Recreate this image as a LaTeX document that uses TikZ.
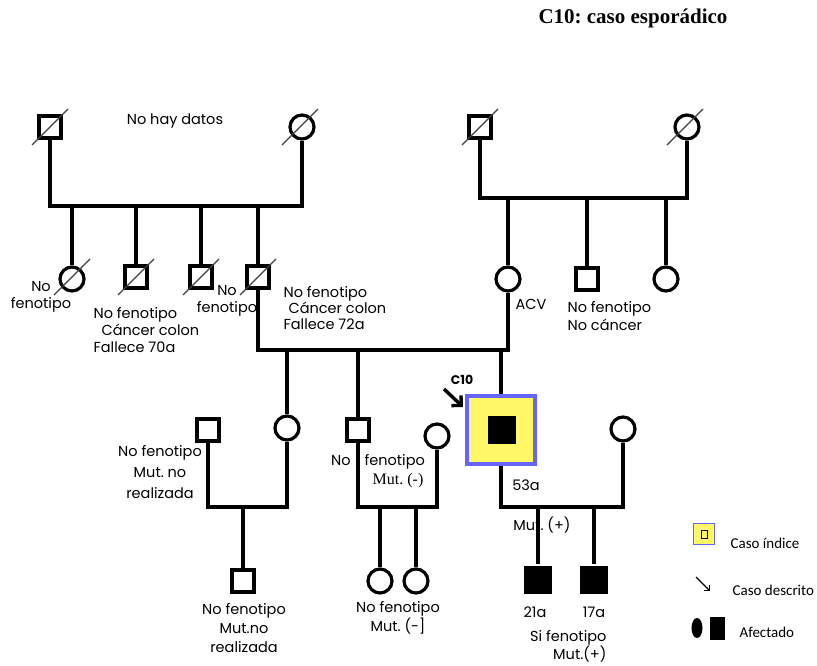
\documentclass[tikz,border=0pt]{standalone}
\usepackage{fontspec}
\setmainfont{Poppins}
\newfontfamily\titlefont{Liberation Serif}
\newfontfamily\legfont{Carlito}
\usetikzlibrary{arrows.meta,shapes.geometric}
\frenchspacing

\begin{document}
\begin{tikzpicture}[x=1pt,y=-1pt,line width=3.2pt,
    male/.style={draw,rectangle,minimum size=22pt,inner sep=0pt,fill=white},
    female/.style={draw,circle,minimum size=24pt,inner sep=0pt,fill=white},
    affected/.style={rectangle,fill=black,minimum size=28pt,inner sep=0pt},
    proband/.style={draw=blue!60,fill=yellow!60,rectangle,minimum size=68pt,inner sep=0pt},
    slash/.style={line width=1.3pt,black!75},
    lbl/.style={font=\fontsize{14.5}{17}\selectfont,inner sep=0pt,align=center},
    leg/.style={font=\legfont\fontsize{15}{18}\selectfont,inner sep=0pt,anchor=west}]
  \useasboundingbox (0,0) rectangle (817,666);

  \node[font=\titlefont\bfseries\fontsize{21}{24}\selectfont] (title) at (633,18) {C10: caso esporádico};

  \node[male] (gA) at (50,127) {};
  \node[female] (gB) at (302,127) {};
  \node[male] (gC) at (480,127) {};
  \node[female] (gD) at (687,127) {};
  \node[lbl] (nodata) at (175,121) {No hay datos};

  \node[female] (c1) at (72,279) {};
  \node[male] (c2) at (136,277) {};
  \node[male] (c3) at (201,277) {};
  \node[male] (c4) at (258,277) {};
  \node[female] (d1) at (508,279) {};
  \node[male] (d2) at (587,279) {};
  \node[female] (d3) at (666,279) {};

  \node[male] (e1) at (208,430) {};
  \node[female] (e2) at (287,428) {};
  \node[male] (e3) at (358,430) {};
  \node[female] (e4) at (437,436) {};
  \node[proband] (pr) at (501,430) {};
  \node[affected] (prIn) at (502,430) {};
  \node[female] (e5) at (623,429) {};

  \node[male] (f1) at (243,581) {};
  \node[female] (f2) at (380,581) {};
  \node[female] (f3) at (416,581) {};
  \node[affected] (g1) at (538,580) {};
  \node[affected] (g2) at (594,580) {};

  \coordinate (u1) at (176,206);
  \coordinate (u2) at (584,198);
  \coordinate (u3) at (380,350);
  \coordinate (u4) at (243,507);
  \coordinate (u5) at (397,507);
  \coordinate (u6) at (560,507);

  \draw (gA.south) |- (u1) -| (gB.south);
  \draw (c1 |- u1) -- (c1);
  \draw (c2 |- u1) -- (c2);
  \draw (c3 |- u1) -- (c3);
  \draw (c4 |- u1) -- (c4);
  \draw (gC.south) |- (u2) -| (gD.south);
  \draw (d1 |- u2) -- (d1);
  \draw (d2 |- u2) -- (d2);
  \draw (d3 |- u2) -- (d3);
  \draw (c4.south) |- (u3) -| (d1.south);
  \draw (e2 |- u3) -- (e2);
  \draw (e3 |- u3) -- (e3);
  \draw (pr |- u3) -- (pr);
  \draw (e1.south) |- (u4) -| (e2.south);
  \draw (u4) -- (f1);
  \draw (e3.south) |- (u5) -| (e4.south);
  \draw (f2 |- u5) -- (f2);
  \draw (f3 |- u5) -- (f3);
  \draw (pr.south) |- (u6) -| (e5.south);
  \draw (g1 |- u6) -- (g1);
  \draw (g2 |- u6) -- (g2);

  \draw[slash] (gA.center) ++(-18,18) -- ++(36,-36);
  \draw[slash] (gB.center) ++(-20,18) -- ++(36,-36);
  \draw[slash] (gC.center) ++(-18,18) -- ++(36,-36);
  \draw[slash] (gD.center) ++(-20,18) -- ++(36,-36);
  \draw[slash] (c1.center) ++(-18,16) -- ++(36,-36);
  \draw[slash] (c2.center) ++(-18,18) -- ++(36,-36);
  \draw[slash] (c3.center) ++(-18,18) -- ++(36,-36);
  \draw[slash] (c4.center) ++(-18,18) -- ++(36,-36);

  \node[lbl] (l1) at (41,297) {No\\fenotipo};
  \node[lbl,align=left,anchor=west] (l2) at (92,330) {No fenotipo\\\hspace{8pt}Cáncer colon\\Fallece 70a};
  \node[lbl] (l3) at (227,301) {No\\fenotipo};
  \node[lbl,align=left,anchor=west,font=\fontsize{14.5}{16}\selectfont] (l4) at (282,308) {No fenotipo\\\hspace{5pt}Cáncer colon\\Fallece 72a};
  \node[lbl] (l5) at (531,304) {ACV};
  \node[lbl,align=left,anchor=west,font=\fontsize{14.5}{18}\selectfont] (l6) at (566,316) {No fenotipo\\No cáncer};
  \node[lbl,font=\fontsize{14.5}{21}\selectfont] (l7) at (160,472) {No fenotipo\\Mut. no\\realizada};
  \node[lbl] (l8) at (378,462) {No\hspace{14pt}fenotipo};
  \node[lbl,font=\titlefont\fontsize{16}{18}\selectfont] (l9) at (398,481) {Mut. (-)};
  \node[lbl] (l10) at (526,485) {53a};
  \node[lbl] (l11) at (542,525) {Mut. (+)};
  \node[lbl,font=\fontsize{14.5}{19}\selectfont] (l12) at (244,628) {No fenotipo\\Mut.no\\realizada};
  \node[lbl,font=\fontsize{14.5}{19}\selectfont] (l13) at (398,618) {No fenotipo\\Mut. (-]};
  \node[lbl] (l14) at (535,612) {21a};
  \node[lbl] (l15) at (594,612) {17a};
  \node[lbl,align=right,anchor=east,font=\fontsize{14.5}{18}\selectfont] (l16) at (608,646) {Si fenotipo\\Mut.(+)};

  \coordinate (arS) at (444,389);
  \coordinate (arE) at (463,407);
  \draw[line width=3.4pt,-{Straight Barb[length=7pt,width=14pt]}] (arS) -- (arE);
  \node[lbl,font=\bfseries\fontsize{12.5}{14}\selectfont] (c10) at (462,380) {C10};

  \node[draw=blue!60,fill=yellow!60,line width=0.8pt,minimum size=21pt,inner sep=0pt] (lgI) at (704,534) {};
  \node[draw,fill=yellow!60,line width=0.8pt,minimum width=6pt,minimum height=8pt,inner sep=0pt] (lgIn) at (704,534) {};
  \coordinate (lgA) at (696,577);
  \coordinate (lgB) at (710,591);
  \draw[line width=1.3pt,-{Straight Barb[length=4pt,width=8pt]}] (lgA) -- (lgB);
  \node[ellipse,fill=black,minimum width=11pt,minimum height=20pt,inner sep=0pt] (lgE) at (697,628) {};
  \node[rectangle,fill=black,minimum width=15pt,minimum height=23pt,inner sep=0pt] (lgR) at (717,628) {};
  \node[leg] (t1) at (729,543) {Caso índice};
  \node[leg] (t2) at (731,590) {Caso descrito};
  \node[leg] (t3) at (738,632) {Afectado};
\end{tikzpicture}
\end{document}
